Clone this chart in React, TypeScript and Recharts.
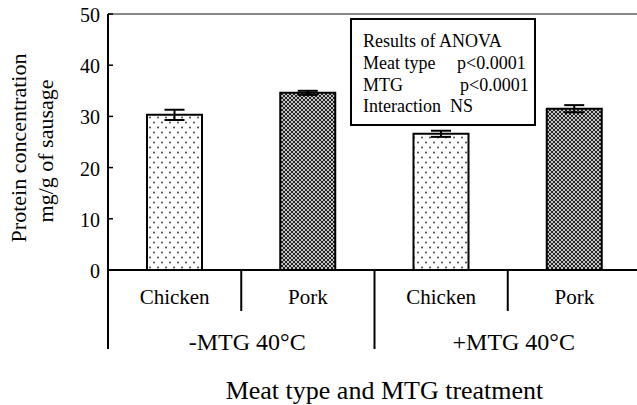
import { BarChart, Bar, XAxis, YAxis, ErrorBar, ReferenceLine, Cell, Customized } from "recharts";

const meatTypes = ["Chicken", "Pork", "Chicken", "Pork"];
const mtgGroups = ["-MTG 40°C", "+MTG 40°C"];
const protein = [30.3, 34.6, 26.6, 31.5];
const stdErr = [1.0, 0.4, 0.6, 0.7];
const yTicks = [0, 10, 20, 30, 40, 50];
const anovaTitle = "Results of ANOVA";
const anovaLabels = ["Meat type", "MTG", "Interaction"];
const anovaValues = ["p<0.0001", "p<0.0001", "NS"];

const data = meatTypes.map((m, i) => ({ meat: m + i, label: m, protein: protein[i], err: stdErr[i] }));

const FONT = "Liberation Serif, serif";
const serif = { fontFamily: FONT };
const W = 641;
const H = 405;
const Y_AXIS_W = 108;
const STEP = (W - Y_AXIS_W) / meatTypes.length;

function XTick(props: any) {
  const { x, y, index } = props;
  const left = x - STEP / 2;
  const groupStart = index % 2 === 0;
  return (
    <g>
      <line x1={left} x2={left} y1={y} y2={groupStart ? y + 79 : y + 41} stroke="#000" strokeWidth={2} />
      <text x={x} y={y + 34} textAnchor="middle" fontSize={21} style={serif} fill="#000">
        {meatTypes[index]}
      </text>
      {!groupStart && (
        <text x={left + 6} y={y + 80} textAnchor="middle" fontSize={24} style={serif} fill="#000">
          {mtgGroups[(index - 1) / 2]}
        </text>
      )}
    </g>
  );
}

function YTick(props: any) {
  const { x, y, payload } = props;
  return (
    <text x={x} y={y + 8} textAnchor="end" fontSize={20} style={serif} fill="#000">
      {payload.value}
    </text>
  );
}

function XTitle(props: any) {
  const { viewBox } = props;
  return (
    <text x={viewBox.x + viewBox.width / 2 + 10} y={viewBox.y + viewBox.height - 6} textAnchor="middle" fontSize={26} style={serif} fill="#000">
      Meat type and MTG treatment
    </text>
  );
}

function YLabel() {
  return (
    <g style={serif} fontSize={22} fill="#000">
      <text x={26} y={148} textAnchor="middle" transform="rotate(-90 26 148)">
        Protein concentration
      </text>
      <text x={53} y={151} textAnchor="middle" transform="rotate(-90 53 151)">
        mg/g of sausage
      </text>
    </g>
  );
}

function AnovaBox() {
  const valueX = [457, 460, 450];
  return (
    <g style={serif} fontSize={18} fill="#000">
      <rect x={351} y={19} width={184} height={106} fill="#fff" stroke="#000" strokeWidth={2} />
      <text x={363} y={47}>{anovaTitle}</text>
      {anovaLabels.map((l, i) => (
        <g key={l}>
          <text x={363} y={69 + i * 21.7}>{l}</text>
          <text x={valueX[i]} y={69 + i * 21.7}>{anovaValues[i]}</text>
        </g>
      ))}
    </g>
  );
}

export default function App() {
  return (
    <div style={{ position: "absolute", left: 0, top: 0, width: 637, height: 405, overflow: "hidden", background: "#fff", fontFamily: FONT }}>
      <BarChart width={W} height={H} data={data} margin={{ top: 14, right: 0, bottom: 0, left: 0 }} barCategoryGap={0} style={serif}>
        <defs>
          <pattern id="dots" width={8} height={10} patternUnits="userSpaceOnUse">
            <rect width={8} height={10} fill="#fff" />
            <circle cx={2} cy={2.5} r={0.9} fill="#333" />
            <circle cx={6} cy={7.5} r={0.9} fill="#333" />
          </pattern>
          <pattern id="hatch" width={4} height={4} patternUnits="userSpaceOnUse">
            <rect width={4} height={4} fill="#c4c4c4" />
            <path d="M0,0 L4,4 M4,0 L0,4" stroke="#111" strokeWidth={0.9} />
          </pattern>
        </defs>
        <ReferenceLine y={50} stroke="#888" strokeWidth={2} ifOverflow="visible" />
        <XAxis
          dataKey="meat"
          height={H - 270}
          tickLine={false}
          tickSize={0}
          tickMargin={0}
          axisLine={{ stroke: "#000", strokeWidth: 2 }}
          tick={<XTick />}
          interval={0}
          label={<XTitle />}
        />
        <YAxis
          width={Y_AXIS_W}
          domain={[0, 50]}
          ticks={yTicks}
          interval={0}
          tickSize={-5}
          tickMargin={13}
          tickLine={{ stroke: "#000", strokeWidth: 1.5 }}
          axisLine={{ stroke: "#000", strokeWidth: 2 }}
          tick={<YTick />}
        />
        <Bar dataKey="protein" barSize={55} stroke="#000" strokeWidth={2} isAnimationActive={false}>
          {data.map((d, i) => (
            <Cell key={d.meat} fill={i % 2 === 0 ? "url(#dots)" : "url(#hatch)"} />
          ))}
          <ErrorBar dataKey="err" width={10} stroke="#000" strokeWidth={2} isAnimationActive={false} />
        </Bar>
        <Customized component={YLabel} />
        <Customized component={AnovaBox} />
      </BarChart>
    </div>
  );
}
